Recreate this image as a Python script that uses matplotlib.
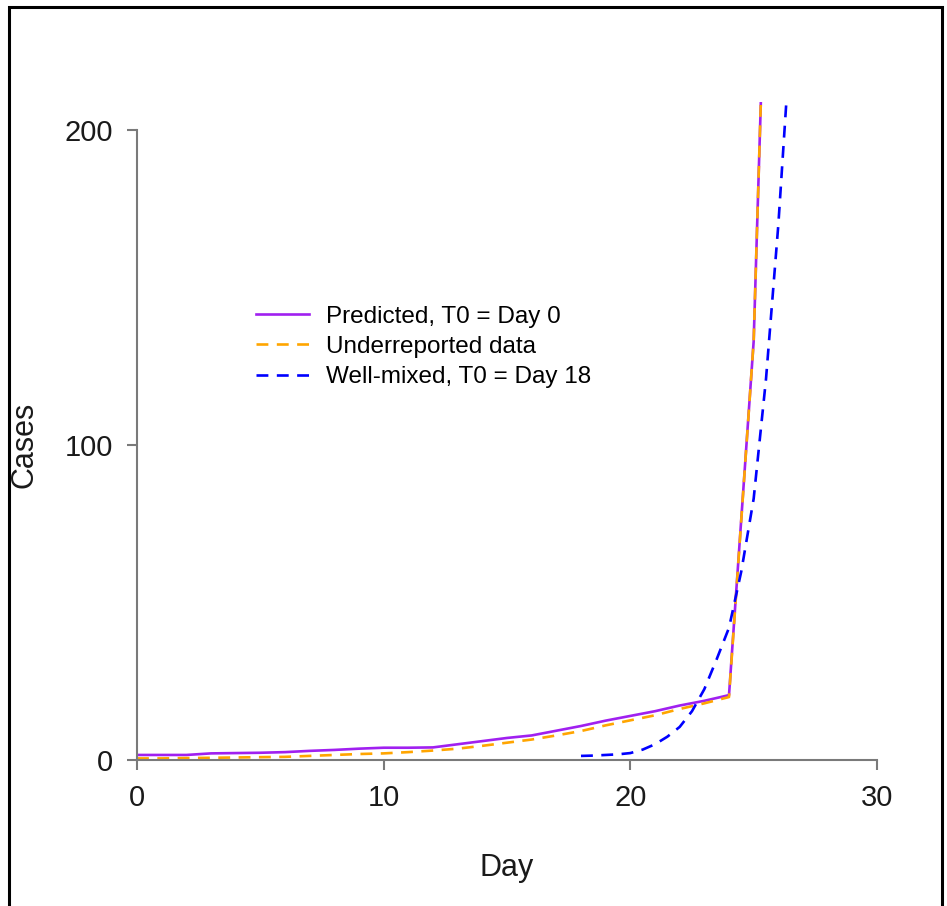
import matplotlib
matplotlib.use('Agg')
import matplotlib.pyplot as plt
from matplotlib.patches import Rectangle

plt.rcParams['font.family'] = ['Liberation Sans', 'DejaVu Sans']

# Predicted, T0 = Day 0 (daily values, last two run past the top)
dias = [0, 1, 2, 3, 4, 5, 6, 7, 8, 9, 10, 11, 12, 13, 14, 15, 16, 17, 18,
        19, 20, 21, 22, 23, 24, 25, 26]
predicho = [1.6, 1.6, 1.6, 2.1, 2.2, 2.3, 2.5, 2.9, 3.2, 3.6, 3.9, 3.9, 4.0,
            5.0, 6.0, 7.0, 7.8, 9.3, 10.8, 12.5, 14.0, 15.5, 17.3, 18.8,
            20.6, 133, 394]
# Underreported data
subreporte = [0.5, 0.5, 0.6, 0.7, 0.8, 0.9, 1.0, 1.3, 1.6, 1.9, 2.1, 2.5,
              3.0, 3.6, 4.5, 5.5, 6.5, 7.8, 9.2, 11.0, 12.6, 14.2, 16.2,
              18.0, 20.0, 133, 394]

# Well-mixed, T0 = Day 18
dias_mix = [18, 18.5, 19, 19.5, 20, 20.5, 21, 21.5, 22, 22.5, 23, 23.5, 24,
            24.5, 25, 25.5, 26, 26.5]
mezcla = [1.3, 1.4, 1.6, 1.8, 2.2, 3.3, 5.0, 7.4, 10.5, 15.5, 22.5, 32, 42,
          60, 83, 121, 170, 230]

etiquetas = ['Predicted, T0 = Day 0', 'Underreported data',
             'Well-mixed, T0 = Day 18']

W, H = 947, 906
fig = plt.figure(figsize=(W / 100, H / 100), dpi=100)
ax = fig.add_axes([137 / W, (H - 760) / H, 740 / W, 658 / H])

ax.plot(dias, predicho, color='#a020f0', lw=1.9, label=etiquetas[0])
ax.plot(dias, subreporte, color='#ffa500', lw=1.9, ls=(0, (4.5, 3.2)),
        label=etiquetas[1])
ax.plot(dias_mix, mezcla, color='#0000ff', lw=1.9, ls=(0, (4.5, 3.2)),
        label=etiquetas[2])

ax.set_xlim(0, 30)
ax.set_ylim(0, 209)
ax.set_xticks([0, 10, 20, 30])
ax.set_yticks([0, 100, 200])

gris = '#7a7a7a'
for lado in ['top', 'right']:
    ax.spines[lado].set_visible(False)
ax.spines['left'].set_bounds(0, 200)
ax.spines['bottom'].set_bounds(0, 30)
for lado in ['left', 'bottom']:
    ax.spines[lado].set_color(gris)
    ax.spines[lado].set_linewidth(1.5)
ax.tick_params(direction='out', length=7, width=1.5, color=gris,
               labelsize=21, pad=10, labelcolor='#1a1a1a')

ax.set_xlabel('Day', fontsize=22, color='#1a1a1a')
ax.set_ylabel('Cases', fontsize=22, color='#1a1a1a')
ax.xaxis.set_label_coords(0.5, -(868 - 760) / 658, transform=ax.transAxes)
ax.yaxis.set_label_coords((25 - 137) / 740, (760 - 445) / 658)
ax.xaxis.label.set_va('center')
ax.yaxis.label.set_va('center')

ax.legend(loc='center left', bbox_to_anchor=(256 / W, (H - 347) / H),
          bbox_transform=fig.transFigure, frameon=False, fontsize=17.5,
          handlelength=2.2, handletextpad=0.7, labelspacing=0.33,
          borderpad=0, borderaxespad=0)

# marco negro alrededor
fig.patches.append(Rectangle((9 / W, -0.02), 933 / W, (H - 7) / H + 0.02,
                             transform=fig.transFigure, fill=False,
                             edgecolor='black', lw=2.2))

fig.savefig('out.png', dpi=100)
